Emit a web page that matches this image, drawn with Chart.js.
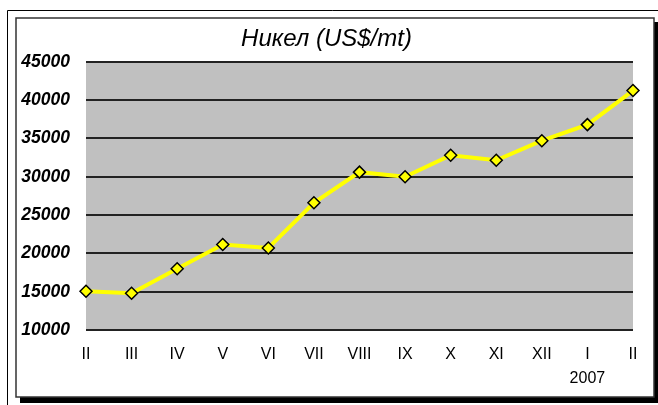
<!DOCTYPE html>
<html>
<head>
<meta charset="utf-8">
<script src="https://cdn.jsdelivr.net/npm/chart.js@4/dist/chart.umd.min.js"></script>
<style>
  html, body { margin: 0; padding: 0; background: #fff; }
  #wrap { width: 658px; height: 405px; }
</style>
</head>
<body>
<div id="wrap"><canvas id="nickel"></canvas></div>
<script>
const months = ['II', 'III', 'IV', 'V', 'VI', 'VII', 'VIII', 'IX', 'X', 'XI', 'XII', ['I', '2007'], 'II'];
const prices = [15050, 14800, 18000, 21150, 20700, 26600, 30600, 30000, 32800, 32150, 34700, 36800, 41250];
const yMin = 10000;
const yMax = 45000;
const yStep = 5000;

// frame, shadow and grey plot background
const frame = {
    id: 'frame',
    beforeDraw(chart) {
        const ctx = chart.ctx;
        const a = chart.chartArea;
        ctx.save();
        ctx.fillStyle = '#fff';
        ctx.fillRect(0, 0, chart.width, chart.height);

        ctx.strokeStyle = '#000';
        ctx.lineWidth = 1;
        ctx.beginPath();
        ctx.moveTo(7.5, chart.height);
        ctx.lineTo(7.5, 10.5);
        ctx.lineTo(chart.width, 10.5);
        ctx.stroke();

        ctx.fillStyle = '#000';
        ctx.fillRect(654, 22, 4, 381);
        ctx.fillRect(20, 397, 638, 6);

        ctx.strokeStyle = '#333';
        ctx.lineWidth = 1.5;
        ctx.strokeRect(16, 18, 638, 379);

        ctx.fillStyle = '#c0c0c0';
        ctx.fillRect(a.left, a.top, a.right - a.left, a.bottom - a.top);
        ctx.restore();
    }
};

const ctx = document.getElementById('nickel').getContext('2d');
new Chart(ctx, {
    type: 'line',
    data: {
        labels: months,
        datasets: [{
            data: prices,
            borderColor: '#ffff00',
            borderWidth: 4,
            tension: 0,
            pointStyle: 'rectRot',
            pointRadius: 6,
            pointBackgroundColor: '#ffff00',
            pointBorderColor: '#000',
            pointBorderWidth: 1.5
        }]
    },
    options: {
        responsive: true,
        maintainAspectRatio: false,
        animation: false,
        layout: { padding: { top: 13, left: 20, right: 25, bottom: 1 } },
        plugins: {
            legend: { display: false },
            tooltip: { enabled: false },
            title: {
                display: true,
                text: 'Никел (US$/mt)',
                color: '#000',
                font: { family: 'Arial, "Liberation Sans"', size: 24, style: 'italic', weight: 'normal' },
                padding: { top: 12, bottom: 8 }
            }
        },
        scales: {
            x: {
                offset: false,
                grid: { display: false, drawTicks: false },
                border: { display: false },
                ticks: {
                    color: '#000',
                    padding: 13,
                    maxRotation: 0,
                    autoSkip: false,
                    font: { family: 'Arial, "Liberation Sans"', size: 16, lineHeight: 1.5 }
                }
            },
            y: {
                min: yMin,
                max: yMax,
                afterFit(scale) { scale.width = 66; },
                grid: { color: '#222', lineWidth: 2, drawTicks: false },
                border: { display: false },
                ticks: {
                    stepSize: yStep,
                    color: '#000',
                    padding: 16,
                    callback: v => String(v),
                    font: { family: 'Arial, "Liberation Sans"', size: 17.5, style: 'italic', weight: 'bold' }
                }
            }
        }
    },
    plugins: [frame]
});
</script>
</body>
</html>
